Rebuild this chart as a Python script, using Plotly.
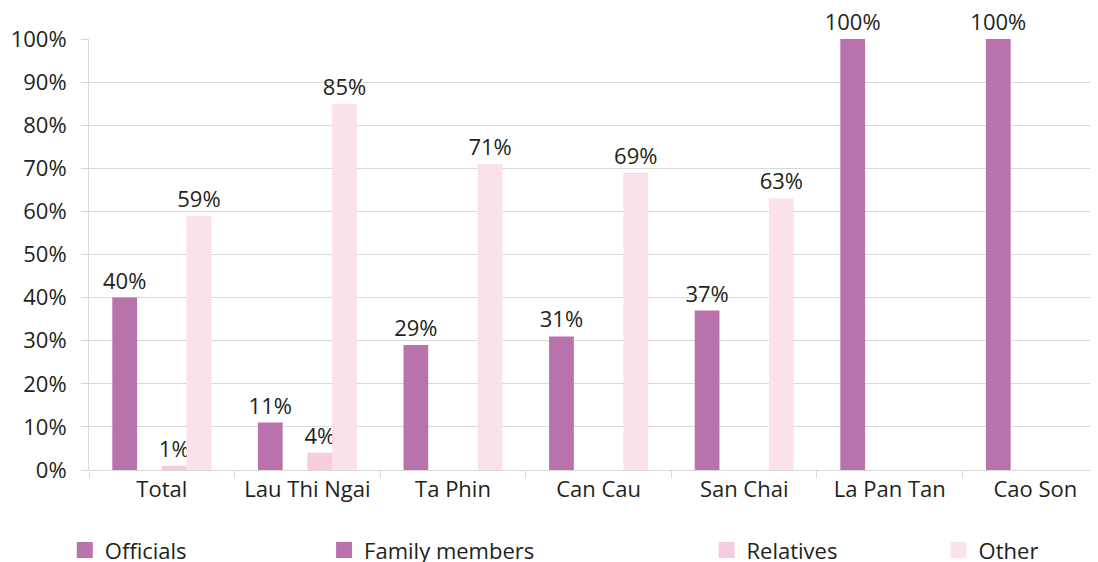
import plotly.graph_objects as go

# data
communes = ['Total', 'Lau Thi Ngai', 'Ta Phin', 'Can Cau', 'San Chai', 'La Pan Tan', 'Cao Son']
officials = [40, 11, 29, 31, 37, 100, 100]
family_members = [0, 0, 0, 0, 0, 0, 0]
relatives = [1, 4, 0, 0, 0, 0, 0]
other = [59, 85, 71, 69, 63, 0, 0]

series = [
    ('Officials', officials, '#B873AD', 'legend'),
    ('Family members', family_members, '#B873AD', 'legend2'),
    ('Relatives', relatives, '#F8CCDF', 'legend3'),
    ('Other', other, '#FBE1EC', 'legend4'),
]

FONT = 'Open Sans'
TXT = '#231F20'
FS = 22

fig = go.Figure()
for name, vals, color, lg in series:
    fig.add_trace(go.Bar(
        x=communes, y=vals, name=name,
        marker=dict(color=color, line=dict(width=0)),
        text=[f'{v}%' if v else '' for v in vals],
        textposition='outside', cliponaxis=False, constraintext='none',
        textfont=dict(family=FONT, size=FS, color=TXT),
        showlegend=False,
    ))
    # legend entry with a bigger square symbol
    fig.add_trace(go.Scatter(
        x=[None], y=[None], mode='markers', name=name, legend=lg,
        marker=dict(symbol='square', size=16, color=color),
    ))

def leg(x):
    return dict(x=x, y=-0.186, xanchor='left', yanchor='middle',
                orientation='h', bgcolor='rgba(0,0,0,0)',
                font=dict(family=FONT, size=FS, color=TXT))

# page body has an 8px margin, so the margins below are 8px smaller
fig.update_layout(
    width=1098, height=562,
    margin=dict(l=81, r=8, t=31, b=100, autoexpand=False),
    plot_bgcolor='white', paper_bgcolor='white',
    barmode='group', bargap=0.32, bargroupgap=0,
    font=dict(family=FONT, size=FS, color=TXT),
    legend=leg(-0.024), legend2=leg(0.233),
    legend3=leg(0.612), legend4=leg(0.842),
    xaxis=dict(range=[-0.5, 6.43], tickson='boundaries', ticks='outside',
               ticklen=7, tickcolor='#D9D9D9', showgrid=False,
               showline=False, ticklabelstandoff=4,
               tickfont=dict(family=FONT, size=FS, color=TXT)),
    yaxis=dict(range=[0, 100], dtick=10, ticksuffix='%', showgrid=True,
               gridcolor='#D9D9D9', gridwidth=1, zeroline=True,
               zerolinecolor='#D9D9D9', zerolinewidth=1,
               showline=True, linecolor='#D9D9D9', linewidth=1,
               ticks='outside', ticklen=7, tickcolor='#D9D9D9',
               ticklabelstandoff=10,
               tickfont=dict(family=FONT, size=FS, color=TXT)),
)

fig.write_html('out.html')
